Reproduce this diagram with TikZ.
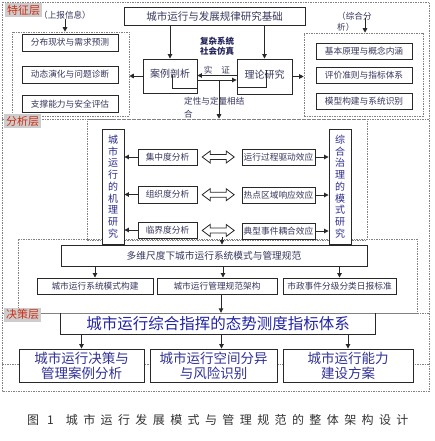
\documentclass[tikz,border=0pt]{standalone}
\usepackage{fontspec}
\setmainfont{Noto Sans CJK SC}
\newfontfamily\capfont[LetterSpace=45]{Noto Sans CJK SC}
\usetikzlibrary{arrows.meta,calc}
\definecolor{boxc}{RGB}{40,40,40}
\definecolor{dashc}{RGB}{130,130,130}
\definecolor{txtc}{RGB}{55,55,95}
\definecolor{vtc}{RGB}{45,45,140}
\definecolor{bigc}{RGB}{35,35,165}
\definecolor{dtc}{RGB}{50,50,150}
\definecolor{labbg}{RGB}{205,205,205}
\definecolor{labred}{RGB}{205,45,20}
\definecolor{navyc}{RGB}{35,35,90}
\definecolor{capc}{RGB}{50,50,50}
\newcommand\hollowdbl[1]{%
  \draw[draw=boxc, fill=white, line width=0.8pt] (#1) ++(-16,0) -- ++(8,-6) -- ++(0,3.5) -- ++(16,0) -- ++(0,-3.5) -- ++(8,6) -- ++(-8,6) -- ++(0,-3.5) -- ++(-16,0) -- ++(0,3.5) -- cycle;}
\begin{document}
\begin{tikzpicture}[x=1pt,y=-1pt,
  bx/.style={draw=boxc, line width=0.9pt, fill=white, inner sep=0pt, text=txtc, font=\fontsize{8.7}{10}\selectfont},
  dline/.style={draw=dashc, line width=0.6pt, dash pattern=on 1.5pt off 1pt},
  dbox/.style={dline, inner sep=0pt},
  arr/.style={draw=boxc, line width=0.9pt, -{Triangle[length=4.5pt,width=4.5pt]}},
  thinl/.style={draw=boxc, line width=0.8pt},
  lab/.style={fill=labbg, text=labred, font=\fontsize{11}{12}\selectfont, inner sep=0pt, minimum width=37pt, minimum height=14pt},
  vtxt/.style={bx, align=center, text=vtc, font=\fontsize{10}{11.7}\selectfont, minimum width=22pt, minimum height=115pt},
  plain/.style={inner sep=0pt, text=txtc, font=\fontsize{8.6}{10}\selectfont},
  dec/.style={bx, align=center, text=dtc, font=\fontsize{13.5}{15}\selectfont, minimum height=33pt}]
\useasboundingbox (0,0) rectangle (434,441);
\fill[white] (0,0) rectangle (434,441);
% frame and separators
\draw[dline] (2,2) rectangle (429,391);
\coordinate (sepA) at (2,119);
\coordinate (sepAe) at (429,119);
\coordinate (sepD) at (2,313);
\coordinate (sepDe) at (429,313);
\coordinate (sepB) at (2,364);
\coordinate (sepBe) at (429,364);
\draw[dline] (sepA) -- (sepAe);
\draw[dline] (sepD) -- (sepDe);
\draw[dline] (sepB) -- (sepBe);
% dashed groups
\node[dbox, minimum width=117pt, minimum height=84pt] (Ld) at (70.5,74) {};
\node[dbox, minimum width=119pt, minimum height=83pt] (Rd) at (363.5,74.5) {};
\node[dbox, minimum width=280pt, minimum height=121pt] (Ad) at (227,179.5) {};
\node[dbox, minimum width=399pt, minimum height=74pt] (Md) at (217.5,276) {};
% top layer
\node[bx, minimum width=181pt, minimum height=18pt, font=\fontsize{10.5}{12}\selectfont] (top) at (214.5,16) {城市运行与发展规律研究基础};
\node[plain] (info) at (65,15) {（上报信息）};
\node[plain, anchor=west] (zh1) at (337,16) {（综合分};
\node[plain, anchor=west] (zh2) at (337,27) {析）};
\coordinate (zharr) at (365,18);
\node[bx, minimum width=96pt, minimum height=17pt] (L1) at (70,42.5) {分布现状与需求预测};
\node[bx, minimum width=96pt, minimum height=17pt] (L2) at (70,74.5) {动态演化与问题诊断};
\node[bx, minimum width=96pt, minimum height=17pt] (L3) at (70,104) {支撑能力与安全评估};
\node[bx, minimum width=96pt, minimum height=16pt] (R1) at (364,51) {基本原理与概念内涵};
\node[bx, minimum width=96pt, minimum height=16pt] (R2) at (364,75) {评价准则与指标体系};
\node[bx, minimum width=96pt, minimum height=16pt] (R3) at (364,101) {模型构建与系统识别};
\node[bx, minimum width=54pt, minimum height=34pt, font=\fontsize{10}{12}\selectfont] (case) at (170,76) {\raisebox{6pt}{案例剖析}};
\node[bx, minimum width=55pt, minimum height=35pt, font=\fontsize{10}{12}\selectfont] (theory) at (264.5,76.5) {\raisebox{4.5pt}{理论研究}};
\draw[thinl] (172,75) -- (172,88) -- (197,88);
\draw[thinl] (266,70) -- (266,87) -- (237,87);
\node[plain, align=center, text=navyc, font=\bfseries\fontsize{8.5}{10}\selectfont] (fz) at (217,46) {复杂系统\\社会仿真};
\node[plain] (sz) at (217,70.5) {实\hspace{9pt}证};
\node[plain, anchor=north west, align=left, font=\fontsize{8.6}{13}\selectfont] (dx) at (184,97.5) {定性与定量相结\\合};
\coordinate (qm) at (219,80);
% top arrows
\draw[arr] (top.south -| case.north) -- (case.north);
\draw[arr] (top.south -| theory.north) -- (theory.north);
\draw[arr] (info.south) -- (info.south |- Ld.north);
\draw[arr] (zharr) -- (zharr |- Rd.north);
\draw[arr] (case.west) -- (case.west -| Ld.east);
\draw[arr] (theory.east) -- (theory.east -| Rd.west);
\draw[arr] ([yshift=1pt]theory.west) -- ([yshift=1pt]theory.west -| case.east);
\draw[arr] ([yshift=-4pt]case.east) -- ([yshift=-4pt]case.east -| theory.west);
\draw[arr] (qm) -- (qm |- Ad.north);
% analysis layer
\node[vtxt] (VL) at (113,186.5) {城\\市\\运\\行\\的\\机\\理\\研\\究};
\node[vtxt] (VR) at (340,186.5) {综\\合\\治\\理\\的\\模\\式\\研\\究};
\node[bx, minimum width=59pt, minimum height=16pt] (A1) at (167.5,157) {集中度分析};
\node[bx, minimum width=59pt, minimum height=17pt] (A2) at (167.5,194.5) {组织度分析};
\node[bx, minimum width=59pt, minimum height=16pt] (A3) at (167.5,230) {临界度分析};
\node[bx, minimum width=73pt, minimum height=16pt] (B1) at (278.5,157) {运行过程驱动效应};
\node[bx, minimum width=73pt, minimum height=16pt] (B2) at (278.5,195) {热点区域响应效应};
\node[bx, minimum width=73pt, minimum height=16pt] (B3) at (278.5,231) {典型事件耦合效应};
\foreach \i in {1,2,3}{
  \draw[arr] (A\i.west) -- (A\i.west -| VL.east);
  \draw[arr] (B\i.east) -- (B\i.east -| VR.west);
  \hollowdbl{$(A\i.east)!0.47!(B\i.west)$}
}
\coordinate (q2) at (222,237);
% multi-scale layer
\node[bx, minimum width=306pt, minimum height=21pt, font=\fontsize{9.7}{11}\selectfont] (Mt) at (214,255.5) {多维尺度下城市运行系统模式与管理规范};
\draw[arr] (q2) -- (q2 |- Mt.north);
\node[bx, minimum width=116pt, minimum height=16pt] (M1) at (95,286) {城市运行系统模式构建};
\node[bx, minimum width=120pt, minimum height=16pt] (M2) at (217,286) {城市运行管理规范架构};
\node[bx, minimum width=113pt, minimum height=16pt] (M3) at (339.5,286) {市政事件分级分类日报标准};
\draw[arr] (Mt.south -| M1.north) -- (M1.north);
\draw[arr] ([xshift=6pt]Mt.south -| M2.north) -- ([xshift=6pt]M2.north);
\draw[arr] (Mt.south -| M3.north) -- (M3.north);
% decision layer
\node[inner sep=0pt, minimum width=314pt, minimum height=21pt, text=bigc, font=\fontsize{15.5}{17}\selectfont] (Big) at (218,323.5) {\raisebox{-1.5pt}{城市运行综合指挥的态势测度指标体系}};
\draw[draw=boxc, line width=0.9pt] (Big.north west) -- (Big.south west) -- (Big.south east) -- (Big.north east);
\draw[arr] ([xshift=4pt]M2.south) -- ([xshift=4pt]M2.south |- Big.north);
\node[dec, minimum width=125pt] (D1) at (81.5,365.5) {城市运行决策与\\管理案例分析};
\node[dec, minimum width=127pt] (D2) at (213.5,365.5) {城市运行空间分异\\与风险识别};
\node[dec, minimum width=130pt] (D3) at (348,365.5) {城市运行能力\\建设方案};
\draw[arr] (Big.south -| D1.north) -- (D1.north);
\draw[arr] ([xshift=8pt]Big.south -| D2.north) -- ([xshift=8pt]D2.north);
\draw[arr] (Big.south -| D3.north) -- (D3.north);
% layer labels
\node[lab] (labT) at (23.5,10.5) {特征层};
\node[lab] (labA) at (22.5,121) {分析层};
\node[lab] (labD) at (22.5,314.5) {决策层};
% caption
\node[anchor=west, inner sep=0pt, text=capc, font=\fontsize{12}{14}\selectfont] (cap) at (27,420) {\capfont 图\hspace{8pt}1\hspace{12pt}城市运行发展模式与管理规范的整体架构设计};
\end{tikzpicture}
\end{document}
